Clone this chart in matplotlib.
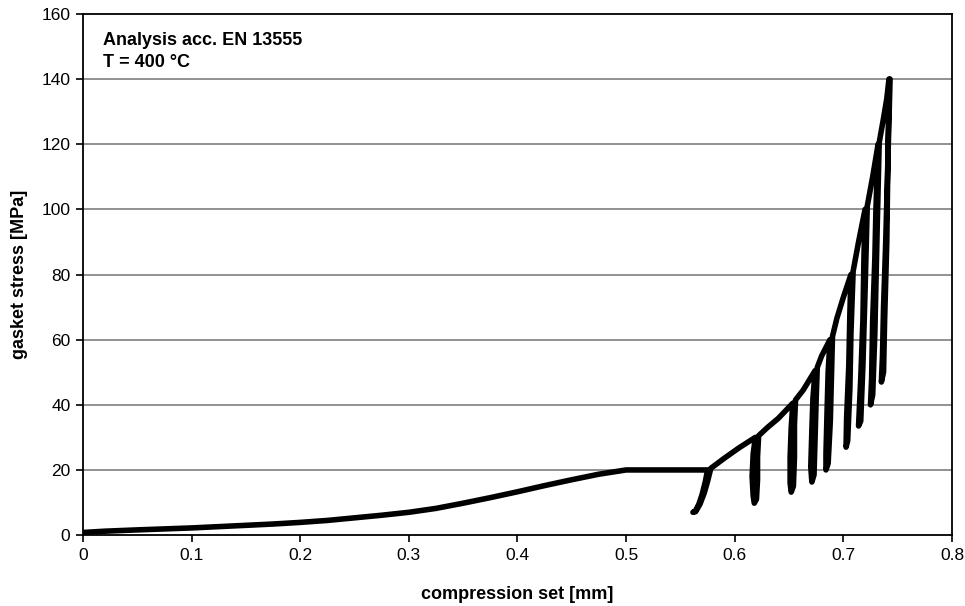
import numpy as np
import matplotlib
matplotlib.use("Agg")
import matplotlib.pyplot as plt

plt.rcParams['font.family'] = ['Liberation Sans', 'DejaVu Sans']

# virgin loading curve up to 20 MPa and the creep plateau
loading_x = [0.000, 0.020, 0.050, 0.075, 0.100, 0.125, 0.150, 0.175, 0.200,
             0.225, 0.250, 0.275, 0.300, 0.325, 0.350, 0.375, 0.400, 0.425,
             0.450, 0.475, 0.500, 0.575]
loading_y = [0.8, 1.2, 1.6, 1.9, 2.2, 2.6, 3.0, 3.4, 3.9,
             4.5, 5.3, 6.1, 7.0, 8.2, 9.8, 11.5, 13.3, 15.2,
             17.0, 18.7, 20.0, 20.0]

# unloading / reloading cycles at 20, 30, 40, 50, 60, 80, 100, 120, 140 MPa
cycle_x = [
    0.573, 0.570, 0.567, 0.564, 0.5615, 0.564, 0.568, 0.572, 0.575, 0.578,   # 20
    0.590, 0.604, 0.619,
    0.617, 0.616, 0.617, 0.618, 0.620, 0.621, 0.621, 0.622,                  # 30
    0.630, 0.640, 0.6535,
    0.652, 0.651, 0.651, 0.652, 0.654, 0.655, 0.655, 0.656,                  # 40
    0.663, 0.674,
    0.672, 0.671, 0.670, 0.671, 0.673, 0.674, 0.675, 0.676,                  # 50
    0.680, 0.6877,
    0.686, 0.685, 0.684, 0.684, 0.686, 0.688, 0.689, 0.690,                  # 60
    0.694, 0.700, 0.707,
    0.706, 0.705, 0.703, 0.7025, 0.704, 0.706, 0.707, 0.709,                 # 80
    0.714, 0.720,
    0.719, 0.718, 0.716, 0.714, 0.716, 0.718, 0.720, 0.722,                  # 100
    0.727, 0.732,
    0.730, 0.729, 0.727, 0.726, 0.725, 0.727, 0.729, 0.731, 0.733,           # 120
    0.737, 0.740, 0.742,
    0.741, 0.739, 0.737, 0.736, 0.735, 0.737, 0.738, 0.740, 0.741, 0.743,    # 140
]
cycle_y = [
    16.5, 12.5, 9.5, 7.5, 7.0, 7.2, 9.5, 13.0, 16.5, 20.5,
    23.5, 26.8, 30.0,
    25.0, 18.0, 12.0, 9.8, 11.0, 17.0, 24.0, 30.5,
    33.0, 35.8, 40.5,
    33.0, 24.0, 16.0, 13.2, 15.0, 24.0, 34.0, 41.5,
    44.5, 50.5,
    42.0, 32.0, 21.0, 16.3, 18.5, 30.0, 42.0, 51.5,
    55.0, 60.0,
    50.0, 38.0, 25.0, 20.0, 22.0, 35.0, 48.0, 61.0,
    66.5, 73.0, 80.0,
    68.0, 52.0, 36.0, 27.0, 29.0, 45.0, 62.0, 81.0,
    90.0, 100.0,
    86.0, 66.0, 48.0, 33.5, 35.0, 52.0, 75.0, 101.0,
    110.0, 120.0,
    100.0, 85.0, 66.0, 48.0, 40.0, 43.0, 62.0, 92.0, 120.5,
    128.0, 134.0, 140.0,
    115.0, 90.0, 70.0, 55.0, 47.0, 50.0, 66.0, 90.0, 115.0, 140.0,
]

x_ticks = [0, 0.1, 0.2, 0.3, 0.4, 0.5, 0.6, 0.7, 0.8]
y_ticks = [0, 20, 40, 60, 80, 100, 120, 140, 160]

x = np.array(loading_x + cycle_x)
y = np.array(loading_y + cycle_y)

fig = plt.figure(figsize=(9.65, 6.06), dpi=100)
ax = fig.add_axes([0.086, 0.117, 0.9005, 0.860])

for v in y_ticks[1:-1]:
    ax.axhline(v, color='#7f7f7f', lw=1.2, zorder=1)

ax.plot(x, y, color='black', lw=4.0, solid_joinstyle='round',
        solid_capstyle='round', zorder=3)

ax.set_xlim(0, 0.8)
ax.set_ylim(0, 160)
ax.set_xticks(x_ticks)
ax.set_xticklabels([f"{v:g}" for v in x_ticks])
ax.set_yticks(y_ticks)
ax.tick_params(direction='out', length=5, width=1.2, labelsize=12.5, pad=4)
for s in ax.spines.values():
    s.set_linewidth(1.3)

ax.set_xlabel("compression set [mm]", fontsize=13, fontweight='bold', labelpad=17)
ax.set_ylabel("gasket stress [MPa]", fontsize=13, fontweight='bold', labelpad=10)

ax.text(0.023, 0.965, "Analysis acc. EN 13555\nT = 400 °C", transform=ax.transAxes,
        fontsize=13, fontweight='bold', va='top', ha='left', linespacing=1.35)

fig.savefig("out.png", dpi=100)
